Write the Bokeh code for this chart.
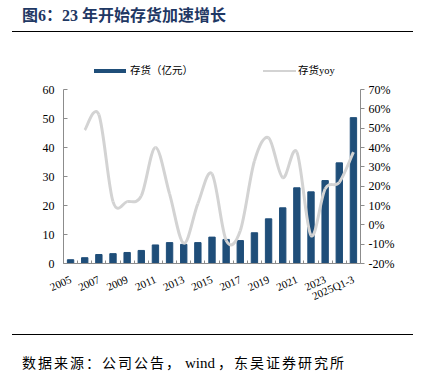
from bokeh.plotting import figure
from bokeh.layouts import column
from bokeh.models import (Range1d, LinearAxis, FixedTicker, PrintfTickFormatter, Div,
                          ColumnDataSource)
from bokeh.embed import file_html
from bokeh.resources import INLINE

categories = ["2005", "2006", "2007", "2008", "2009", "2010", "2011", "2012", "2013", "2014",
              "2015", "2016", "2017", "2018", "2019", "2020", "2021", "2022", "2023", "2024",
              "2025Q1-3"]
inventory = [1.3, 2.0, 3.1, 3.4, 3.8, 4.5, 6.4, 7.2, 6.6, 7.2, 9.1, 8.3, 7.9, 10.6, 15.4,
             19.2, 26.1, 24.7, 28.6, 34.7, 50.3]
yoy = [None, 49, 57, 12, 12, 15, 40, 16, -9.5, 11, 26.4, -8, -3, 33, 45, 24.4, 37.6, -5.5,
       18.6, 22, 37.6]
tick_labels = ["2005", "2007", "2009", "2011", "2013", "2015", "2017", "2019", "2021", "2023",
               "2025Q1-3"]
left_ticks = [0, 10, 20, 30, 40, 50, 60]
right_ticks = [-20, -10, 0, 10, 20, 30, 40, 50, 60, 70]
title_text = "图6：23 年开始存货加速增长"
source_parts = ["数据来源：公司公告，", "wind", "，东吴证券研究所"]
bar_label = "存货（亿元）"
line_label = "存货yoy"

NAVY = "#1F4E79"
GRAY = "#D3D3D3"
AXIS = "#8C8C8C"
SERIF = "Liberation Serif"
MIXED = "'Liberation Serif', 'Noto Sans CJK SC', sans-serif"

W = 414
TOP_H = 80          # header block height
FIG_H = 245         # figure height
BOT_H = 48          # footer block height
FL, FR, FT, FB = 63, 360, 89, 263   # frame edges in page pixels

header = Div(width=W, height=TOP_H, margin=0, text=f"""
<div style="position:relative;width:{W}px;height:{TOP_H}px;">
  <div style="position:absolute;left:22px;top:5px;line-height:22px;font-family:{MIXED};
       font-size:16px;font-weight:bold;color:#1F3864;white-space:nowrap;">{title_text}</div>
  <div style="position:absolute;left:12px;top:30.5px;width:401px;height:1.8px;background:#000;"></div>
  <div style="position:absolute;left:94px;top:69px;width:32px;height:3.6px;background:{NAVY};"></div>
  <div style="position:absolute;left:130px;top:63px;line-height:16px;font-family:{MIXED};
       font-size:10.5px;color:#000;white-space:nowrap;">{bar_label}</div>
  <div style="position:absolute;left:263px;top:69.5px;width:33px;height:2.6px;background:{GRAY};"></div>
  <div style="position:absolute;left:298px;top:63px;line-height:16px;font-family:{MIXED};
       font-size:10.5px;color:#000;white-space:nowrap;">{line_label}</div>
</div>""")

p = figure(width=W, height=FIG_H, output_backend="svg", toolbar_location=None,
           x_range=Range1d(-0.5, len(categories) - 0.5), y_range=Range1d(0, 60),
           min_border_left=FL, min_border_right=W - FR, min_border_top=FT - TOP_H,
           min_border_bottom=TOP_H + FIG_H - FB, margin=0)
p.outline_line_color = None
p.grid.visible = False
p.extra_y_ranges = {"yoy": Range1d(-20, 70)}

xs = list(range(len(categories)))
p.vbar(x=xs, top=inventory, width=0.45, color=NAVY)

# smooth line: Catmull-Rom tangents turned into cubic bezier segments between data points
pts = [(x, y) for x, y in zip(xs, yoy) if y is not None]
seg = {k: [] for k in ["x0", "y0", "x1", "y1", "cx0", "cy0", "cx1", "cy1"]}
n = len(pts)
for i in range(n - 1):
    pa = pts[i - 1] if i > 0 else pts[i]
    pb, pc = pts[i], pts[i + 1]
    pd = pts[i + 2] if i + 2 < n else pts[i + 1]
    seg["x0"].append(pb[0]); seg["y0"].append(pb[1])
    seg["x1"].append(pc[0]); seg["y1"].append(pc[1])
    seg["cx0"].append(pb[0] + (pc[0] - pa[0]) / 6); seg["cy0"].append(pb[1] + (pc[1] - pa[1]) / 6)
    seg["cx1"].append(pc[0] - (pd[0] - pb[0]) / 6); seg["cy1"].append(pc[1] - (pd[1] - pb[1]) / 6)
p.bezier(x0="x0", y0="y0", x1="x1", y1="y1", cx0="cx0", cy0="cy0", cx1="cx1", cy1="cy1",
         source=ColumnDataSource(seg), line_color=GRAY, line_width=3, y_range_name="yoy")

# axes
xa = p.xaxis[0]
label_pos = [categories.index(t) for t in tick_labels]
xa.ticker = FixedTicker(ticks=label_pos, minor_ticks=[i + 0.5 for i in range(-1, len(categories))])
xa.major_label_overrides = {i: categories[i] for i in label_pos}
xa.major_tick_line_color = None
xa.minor_tick_in = 3
xa.minor_tick_out = 0
xa.minor_tick_line_color = AXIS
xa.axis_line_color = AXIS
xa.major_label_orientation = 0.42
xa.major_label_standoff = 9
xa.major_label_text_font = SERIF
xa.major_label_text_font_size = "11px"
xa.major_label_text_color = "#000000"

ya = p.yaxis[0]
ya.ticker = FixedTicker(ticks=left_ticks)
ya.axis_line_color = AXIS
ya.major_tick_line_color = AXIS
ya.major_tick_in = 4
ya.major_tick_out = 0
ya.minor_tick_line_color = None
ya.major_label_standoff = 9
ya.major_label_text_font = SERIF
ya.major_label_text_font_size = "12px"
ya.major_label_text_color = "#000000"

ra = LinearAxis(y_range_name="yoy", ticker=FixedTicker(ticks=right_ticks),
                formatter=PrintfTickFormatter(format="%d%%"))
ra.axis_line_color = AXIS
ra.major_tick_line_color = AXIS
ra.major_tick_in = 0
ra.major_tick_out = 4
ra.minor_tick_line_color = None
ra.major_label_standoff = 4
ra.major_label_text_font = SERIF
ra.major_label_text_font_size = "12px"
ra.major_label_text_color = "#000000"
p.add_layout(ra, "right")

cjk_a, latin, cjk_b = source_parts
footer = Div(width=W, height=BOT_H, margin=0, text=f"""
<div style="position:relative;width:{W}px;height:{BOT_H}px;">
  <div style="position:absolute;left:12px;top:8.5px;width:401px;height:1.7px;background:#000;"></div>
  <div style="position:absolute;left:22px;top:29px;line-height:18px;font-family:{MIXED};
       font-size:14px;color:#000;white-space:nowrap;"><span style="letter-spacing:2px;">{cjk_a}</span><span style="font-size:15px;margin:0 3px;">{latin}</span><span style="letter-spacing:2px;">{cjk_b}</span></div>
</div>""")

layout = column(header, p, footer, spacing=0, margin=0)
open("out.html", "w").write(file_html(layout, INLINE))
